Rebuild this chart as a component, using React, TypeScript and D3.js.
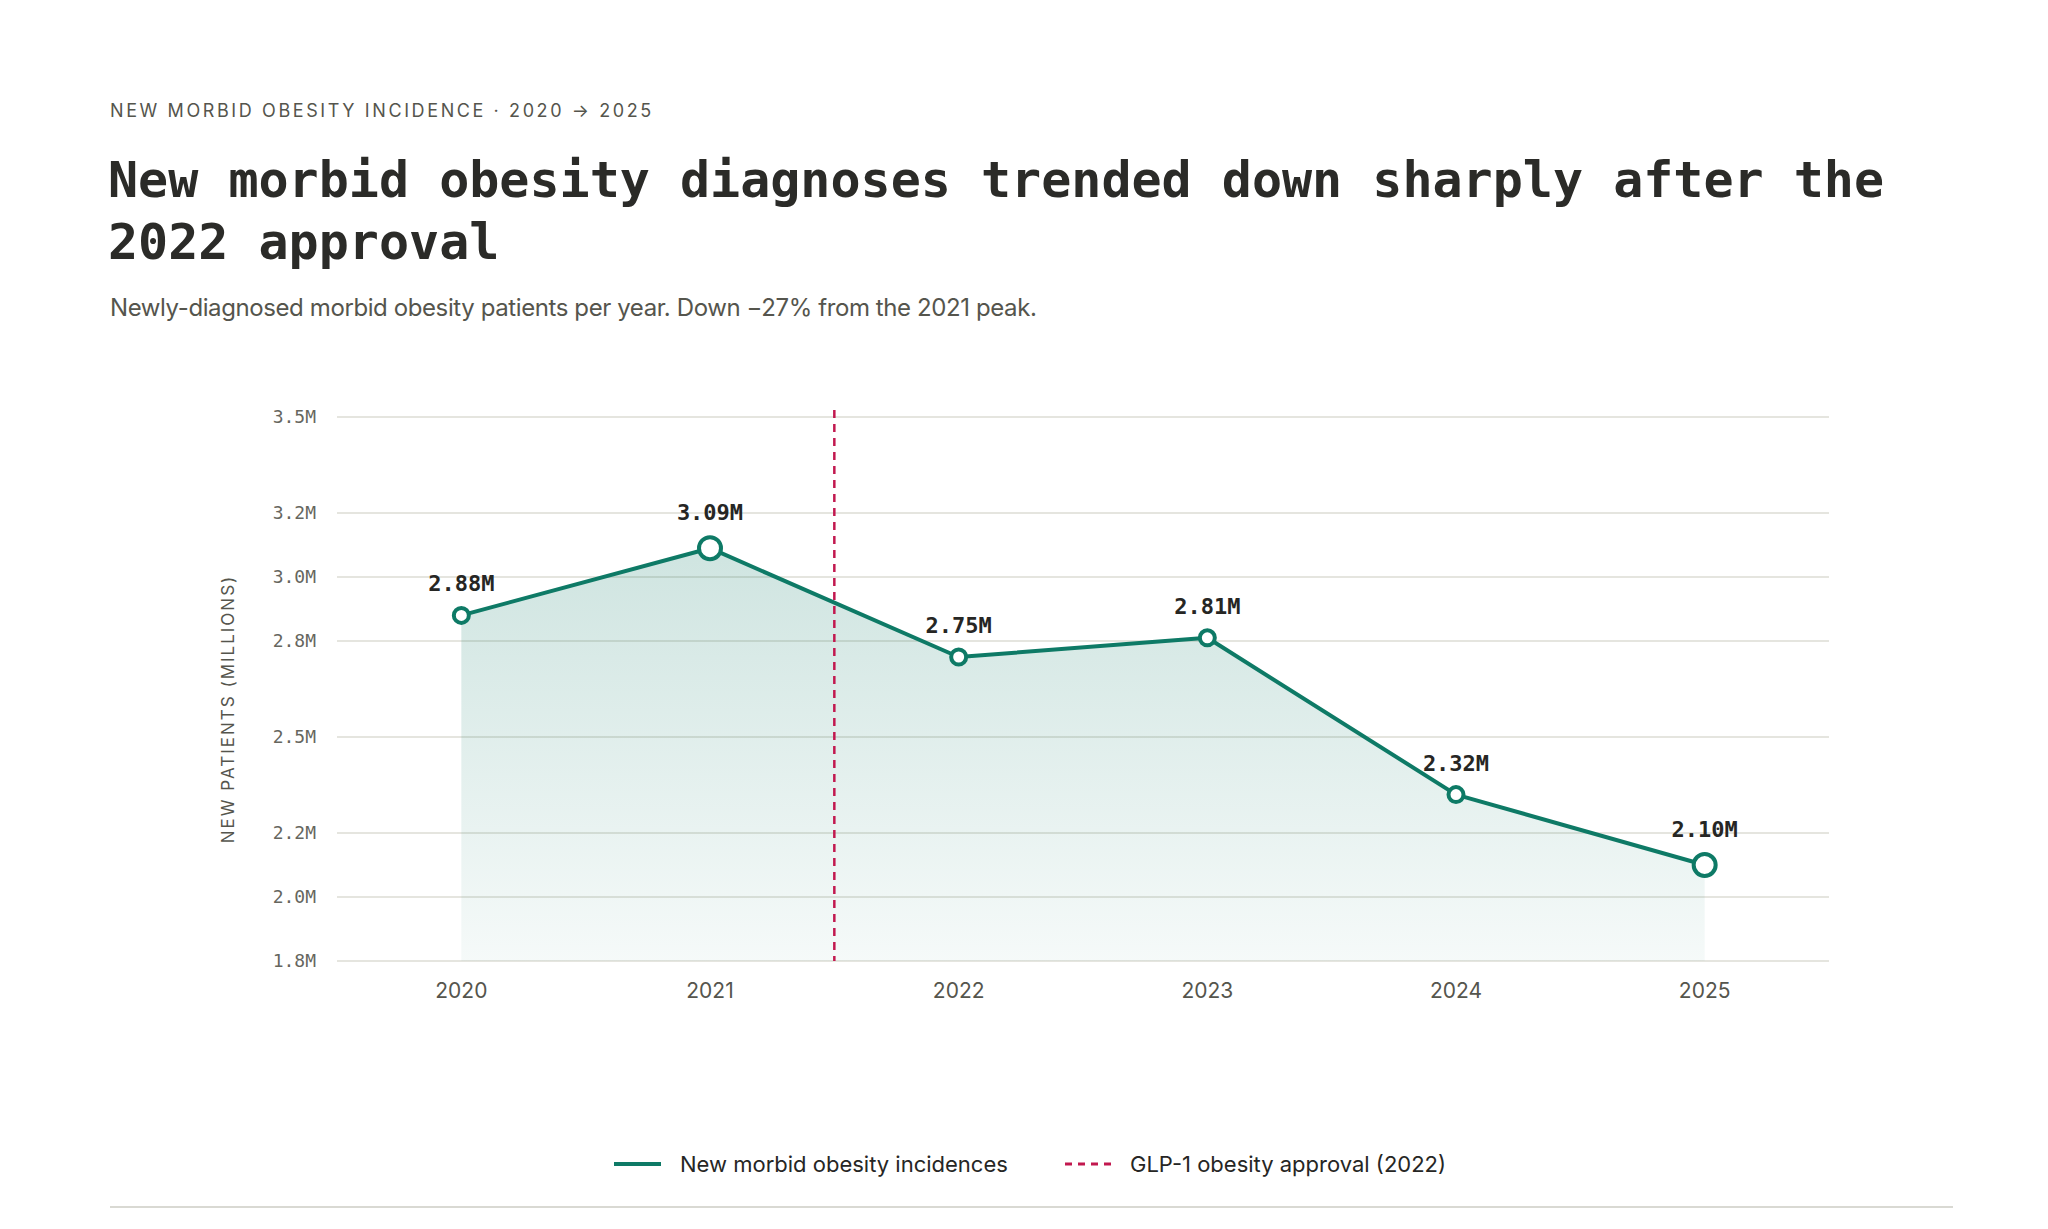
import { useMemo } from "react";
import * as d3 from "d3";

const W = 2048;
const H = 1229;

const years = ["2020", "2021", "2022", "2023", "2024", "2025"];
const patients = [2.88, 3.09, 2.75, 2.81, 2.32, 2.1];
const labels = ["2.88M", "3.09M", "2.75M", "2.81M", "2.32M", "2.10M"];
const emphasised = ["2021", "2025"];
const yTicks = [1.8, 2.0, 2.2, 2.5, 2.8, 3.0, 3.2, 3.5];
const approvalAt = 2.5; // position between 2021 and 2022, in index units

const PLOT = { left: 337, right: 1829, top: 417, bottom: 961 };
const TEAL = "#0e7a66";
const CRIMSON = "#c2184f";
const MONO = "'DejaVu Sans Mono', monospace";
const SANS = "Inter, 'Noto Sans', sans-serif";

export default function App() {
  const x = useMemo(
    () => d3.scalePoint<string>().domain(years).range([PLOT.left, PLOT.right]).padding(0.5),
    []
  );
  const y = useMemo(
    () => d3.scaleLinear().domain([1.8, 3.5]).range([PLOT.bottom, PLOT.top]),
    []
  );

  const pts = years.map((yr, i) => ({ yr, v: patients[i], label: labels[i] }));
  const line = d3
    .line<(typeof pts)[number]>()
    .x((d) => x(d.yr)!)
    .y((d) => y(d.v));
  const area = d3
    .area<(typeof pts)[number]>()
    .x((d) => x(d.yr)!)
    .y0(PLOT.bottom)
    .y1((d) => y(d.v));

  // approval marker sits halfway between two categories
  const step = x.step();
  const approvalX = x(years[0])! + (approvalAt - 1) * step;

  return (
    <svg
      width={W}
      height={H}
      style={{ position: "absolute", left: 0, top: 0, background: "#fff" }}
    >
      <defs>
        <linearGradient id="fillGrad" x1="0" y1="0" x2="0" y2="1">
          <stop offset="0%" stopColor={TEAL} stopOpacity={0.2} />
          <stop offset="100%" stopColor={TEAL} stopOpacity={0.04} />
        </linearGradient>
      </defs>

      {/* header */}
      <text x={110} y={117} fontFamily={SANS} fontSize={18} letterSpacing={2.6} fill="#55554d">
        NEW MORBID OBESITY INCIDENCE · 2020 → 2025
      </text>
      <text x={108} y={197} fontFamily={MONO} fontWeight="bold" fontSize={50} fill="#2b2b28">
        New morbid obesity diagnoses trended down sharply after the
      </text>
      <text x={108} y={259} fontFamily={MONO} fontWeight="bold" fontSize={50} fill="#2b2b28">
        2022 approval
      </text>
      <text x={110} y={316} fontFamily={SANS} fontSize={24} letterSpacing={-0.4} fill="#55554d">
        Newly-diagnosed morbid obesity patients per year. Down −27% from the 2021 peak.
      </text>

      {/* grid + y ticks */}
      {yTicks.map((t) => (
        <g key={t}>
          <line x1={PLOT.left} x2={PLOT.right} y1={y(t)} y2={y(t)} stroke="#dcdcd5" strokeWidth={1.5} />
          <text
            x={316}
            y={y(t)}
            dy="0.35em"
            textAnchor="end"
            fontFamily={MONO}
            fontSize={18}
            fill="#66665e"
          >
            {t.toFixed(1)}M
          </text>
        </g>
      ))}
      <text
        transform={`translate(234,${(PLOT.top + PLOT.bottom) / 2 + 20}) rotate(-90)`}
        textAnchor="middle"
        fontFamily={SANS}
        fontSize={17}
        letterSpacing={2}
        fill="#55554d"
      >
        NEW PATIENTS (MILLIONS)
      </text>

      {/* area + line */}
      <path d={area(pts)!} fill="url(#fillGrad)" />
      <line
        x1={approvalX}
        x2={approvalX}
        y1={PLOT.top - 7}
        y2={PLOT.bottom}
        stroke={CRIMSON}
        strokeWidth={2.5}
        strokeDasharray="8 6"
      />
      <path d={line(pts)!} fill="none" stroke={TEAL} strokeWidth={4} strokeLinejoin="round" />
      {pts.map((p) => {
        const big = emphasised.includes(p.yr);
        return (
          <g key={p.yr}>
            <circle cx={x(p.yr)} cy={y(p.v)} r={big ? 11 : 7.5} fill="#fff" stroke={TEAL} strokeWidth={4} />
            <text
              x={x(p.yr)}
              y={y(p.v) - (big ? 28 : 24)}
              textAnchor="middle"
              fontFamily={MONO}
              fontWeight="bold"
              fontSize={22}
              fill="#262624"
            >
              {p.label}
            </text>
          </g>
        );
      })}

      {/* x labels */}
      {years.map((yr) => (
        <text key={yr} x={x(yr)} y={998} textAnchor="middle" fontFamily={SANS} fontSize={21} fill="#55554d">
          {yr}
        </text>
      ))}

      {/* legend */}
      <line x1={614} x2={661} y1={1164} y2={1164} stroke={TEAL} strokeWidth={4} />
      <text x={680} y={1172} fontFamily={SANS} fontSize={22} fill="#262624">
        New morbid obesity incidences
      </text>
      <line x1={1065} x2={1112} y1={1164} y2={1164} stroke={CRIMSON} strokeWidth={3} strokeDasharray="7 6" />
      <text x={1130} y={1172} fontFamily={SANS} fontSize={22} fill="#262624">
        GLP-1 obesity approval (2022)
      </text>

      <line x1={110} x2={1953} y1={1207} y2={1207} stroke="#d9d9d3" strokeWidth={2} />
    </svg>
  );
}
